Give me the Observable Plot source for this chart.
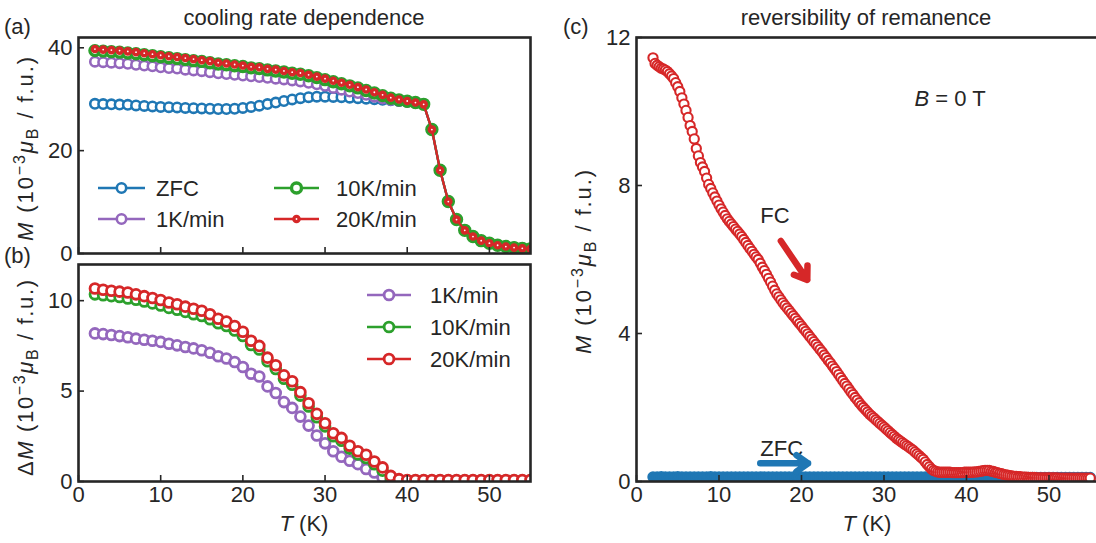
<!DOCTYPE html>
<html>
<head>
<meta charset="utf-8">
<script src="https://cdn.jsdelivr.net/npm/d3@7"></script>
<script src="https://cdn.jsdelivr.net/npm/@observablehq/plot@0.6"></script>
<style>
html,body{margin:0;padding:0;background:#fff;}
#wrap{position:relative;width:1096px;height:543px;overflow:hidden;background:#fff;}
</style>
</head>
<body>
<div id="wrap"></div>
<script>
// ---------------- data ----------------
const temps = [2,3,4,5,6,7,8,9,10,11,12,13,14,15,16,17,18,19,20,21,22,23,24,25,26,27,28,29,30,31,32,33,34,35,36,37,38,39,40,41,42,43,44,45,46,47,48,49,50,51,52,53,54,55];

// panel (a): M (10^-3 muB / f.u.)
const mZFC = [29.10,29.05,29.00,28.95,28.90,28.80,28.70,28.60,28.50,28.45,
  28.40,28.30,28.25,28.20,28.15,28.10,28.10,28.15,28.30,28.50,
  28.75,29.05,29.35,29.65,29.95,30.20,30.40,30.50,30.50,30.45,
  30.40,30.30,30.20,30.10,30.00,29.90,29.80,29.65,29.50,29.30,
  29.00,24.10,16.20,10.10,6.60,4.50,3.30,2.50,2.00,1.60,1.35,1.15,1.00,0.90];
const m1K = [37.30,37.20,37.10,37.00,36.90,36.70,36.55,36.40,36.20,36.05,
  35.95,35.75,35.60,35.45,35.25,35.05,34.90,34.75,34.60,34.45,
  34.30,34.15,34.00,33.85,33.65,33.45,33.20,32.90,32.60,32.20,
  31.85,31.50,31.20,30.85,30.50,30.15,29.85,29.65,29.50,29.30,
  29.00,24.10,16.20,10.10,6.60,4.50,3.30,2.50,2.00,1.60,1.35,1.15,1.00,0.90];
const m10K = [39.45,39.35,39.25,39.15,39.00,38.85,38.65,38.45,38.25,38.05,
  37.90,37.70,37.50,37.35,37.10,36.85,36.70,36.50,36.35,36.10,
  35.95,35.70,35.50,35.30,35.05,34.85,34.55,34.20,33.80,33.40,
  33.00,32.60,32.20,31.70,31.20,30.70,30.20,29.85,29.60,29.35,
  29.00,24.10,16.20,10.10,6.60,4.50,3.30,2.50,2.00,1.60,1.35,1.15,1.00,0.90];
const m20K = [39.75,39.65,39.55,39.45,39.30,39.15,38.95,38.75,38.55,38.35,
  38.20,38.00,37.80,37.60,37.40,37.10,36.95,36.75,36.55,36.30,
  36.20,35.90,35.75,35.50,35.25,35.10,34.75,34.40,34.00,33.60,
  33.20,32.80,32.35,31.90,31.35,30.85,30.30,29.95,29.65,29.35,
  29.00,24.10,16.20,10.10,6.60,4.50,3.30,2.50,2.00,1.60,1.35,1.15,1.00,0.90];

// panel (b): Delta M
const d1K = [8.19,8.15,8.10,8.04,7.98,7.90,7.84,7.78,7.72,7.62,
  7.53,7.44,7.36,7.26,7.12,6.93,6.80,6.61,6.33,5.96,
  5.81,5.26,4.89,4.39,4.07,3.59,3.09,2.54,2.11,1.67,
  1.37,1.15,0.96,0.69,0.50,0.22,0.02,0.00,0.00,0.00,
  0,0,0,0,0,0,0,0,0,0,0,0,0,0];
const d10K = [10.35,10.30,10.25,10.20,10.12,10.05,9.95,9.85,9.73,9.60,
  9.50,9.38,9.25,9.15,8.97,8.75,8.60,8.35,8.05,7.55,
  7.30,6.65,6.22,5.68,5.35,4.75,4.15,3.55,3.05,2.50,
  2.25,1.82,1.50,1.30,0.95,0.60,0.18,0.06,0.05,0.05,
  0.05,0.05,0.05,0.05,0.05,0.05,0.05,0.05,0.05,0.05,0.05,0.05,0.05,0.05];
const d20K = [10.67,10.60,10.55,10.50,10.45,10.35,10.25,10.15,10.04,9.90,
  9.80,9.67,9.55,9.44,9.25,9.00,8.85,8.60,8.28,7.78,
  7.50,6.85,6.43,5.87,5.54,4.94,4.33,3.74,3.22,2.67,
  2.41,1.98,1.67,1.48,1.11,0.78,0.31,0.13,0.08,0.08,
  0.08,0.08,0.08,0.08,0.08,0.08,0.08,0.08,0.08,0.08,0.08,0.08,0.08,0.08];

// panel (c): remanence, FC sampled every 0.25 K from 2 K, ZFC every 0.5 K from 2 K
const fcStart = 2, fcStep = 0.25;
const fcM = [
  11.45,11.30,11.25,11.21,11.17,11.15,11.12,11.08,
  11.02,10.96,10.89,10.78,10.67,10.54,10.37,10.20,
  10.03,9.84,9.62,9.46,9.26,9.00,8.80,8.62,
  8.50,8.38,8.20,8.03,7.92,7.80,7.69,7.58,
  7.47,7.37,7.28,7.19,7.10,7.03,6.96,6.89,
  6.82,6.76,6.69,6.62,6.54,6.46,6.38,6.30,
  6.22,6.14,6.07,6.00,5.90,5.79,5.70,5.60,
  5.49,5.39,5.28,5.17,5.07,4.99,4.91,4.83,
  4.76,4.69,4.62,4.55,4.48,4.41,4.34,4.27,
  4.20,4.13,4.06,3.99,3.92,3.85,3.78,3.71,
  3.64,3.57,3.50,3.42,3.35,3.27,3.20,3.12,
  3.05,2.97,2.89,2.81,2.73,2.65,2.58,2.50,
  2.42,2.35,2.27,2.20,2.13,2.06,2.00,1.94,
  1.88,1.82,1.77,1.72,1.67,1.62,1.57,1.52,
  1.47,1.42,1.37,1.32,1.27,1.22,1.17,1.13,
  1.09,1.05,1.01,0.97,0.93,0.89,0.85,0.80,
  0.75,0.70,0.65,0.60,0.53,0.46,0.40,0.34,
  0.30,0.28,0.26,0.25,0.25,0.25,0.25,0.25,
  0.25,0.24,0.24,0.24,0.24,0.24,0.24,0.25,
  0.25,0.25,0.25,0.25,0.26,0.26,0.27,0.28,
  0.29,0.30,0.30,0.30,0.28,0.27,0.25,0.24,
  0.22,0.21,0.19,0.18,0.17,0.16,0.15,0.14,
  0.14,0.13,0.13,0.12,0.12,0.12,0.11,0.11,
  0.11,0.11,0.10,0.10,0.10,0.10,0.10,0.10,
  0.10,0.10,0.10,0.10,0.10,0.09,0.09,0.09,
  0.09,0.09,0.09,0.09,0.09,0.09,0.09,0.09,
  0.09,0.09,0.09,0.09,0.09];
const zfcStart = 2, zfcStep = 0.5;
const zfcM = [
  0.12,0.12,0.13,0.12,0.12,0.12,0.13,0.12,0.12,0.12,
  0.12,0.12,0.12,0.12,0.13,0.12,0.12,0.12,0.12,0.12,
  0.12,0.12,0.12,0.12,0.12,0.12,0.12,0.12,0.12,0.12,
  0.12,0.12,0.12,0.12,0.12,0.12,0.12,0.12,0.12,0.12,
  0.12,0.12,0.12,0.12,0.12,0.12,0.12,0.12,0.12,0.12,
  0.12,0.12,0.12,0.12,0.12,0.12,0.12,0.12,0.12,0.12,
  0.12,0.12,0.12,0.12,0.12,0.12,0.12,0.12,0.12,0.12,
  0.11,0.11,0.11,0.11,0.11,0.11,0.11,0.11,0.11,0.11,
  0.11,0.11,0.11,0.11,0.11,0.11,0.11,0.11,0.11,0.11,
  0.11,0.11,0.11,0.11,0.11,0.11,0.11,0.11,0.11,0.11,
  0.11,0.11,0.11,0.11,0.11,0.11,0.11];

const xTicks = [0,10,20,30,40,50];
const yTicksA = [0,20,40];
const yTicksB = [0,5,10];
const yTicksC = [0,4,8,12];

// annotations in panel (c), in data units (T, M)
const fcLabel = {T: 15.0, M: 7.0, text: "FC"};
const zfcLabel = {T: 15.0, M: 0.70, text: "ZFC"};
const fieldLabel = {T: 33.7, M: 10.16, text: "B = 0 T"};
const fcArrow = {T1: 17.5, M1: 6.5, T2: 20.7, M2: 5.45};
const zfcArrow = {T1: 15.0, M1: 0.49, T2: 20.8, M2: 0.49};

// ---------------- style ----------------
const INK = "#262626";
const FONT = "'Liberation Sans', Arial, Helvetica, sans-serif";
const FS = 22;
const COL = {blue: "#1f77b4", purple: "#9467bd", green: "#2ca02c", red: "#d62728"};

const rowsOf = (xs, ys) => xs.map((x, i) => ({x, y: ys[i]}));
const wrap = document.getElementById("wrap");

function panel({left, top, width, height, margin, xDomain, yDomain, yTicks, xLabels, marks}) {
  const [mt, mr, mb, ml] = margin;
  const pw = width - ml - mr, ph = height - mt - mb;
  const tickX = 6 * (yDomain[1] - yDomain[0]) / ph;
  const tickY = 6 * (xDomain[1] - xDomain[0]) / pw;
  const all = [
    ...marks,
    Plot.ruleX(xTicks, {x: d => d, y1: yDomain[0], y2: yDomain[0] + tickX, stroke: INK, strokeWidth: 1.6}),
    Plot.ruleY(yTicks, {y: d => d, x1: xDomain[0], x2: xDomain[0] + tickY, stroke: INK, strokeWidth: 1.6}),
    Plot.frame({stroke: INK, strokeWidth: 2.6}),
    Plot.axisY({ticks: yTicks, tickSize: 0, tickPadding: 6, label: null, fontSize: FS, fill: INK})
  ];
  if (xLabels) all.push(Plot.axisX({ticks: xTicks, tickSize: 0, tickPadding: 5, label: null, fontSize: FS, fill: INK}));
  const svg = Plot.plot({
    width, height,
    marginTop: mt, marginRight: mr, marginBottom: mb, marginLeft: ml,
    x: xLabels ? {domain: xDomain} : {domain: xDomain, axis: null},
    y: {domain: yDomain},
    style: {fontFamily: FONT, fontSize: FS + "px", color: INK, background: "none", overflow: "visible"},
    marks: all
  });
  svg.style.position = "absolute";
  svg.style.left = left + "px";
  svg.style.top = top + "px";
  svg.style.height = height + "px";
  svg.style.maxWidth = "none";
  wrap.appendChild(svg);
  return svg;
}

function series(data, color, r, sw, fill = "white") {
  return [
    Plot.line(data, {x: "x", y: "y", stroke: color, strokeWidth: 2.3, clip: true}),
    Plot.dot(data, {x: "x", y: "y", r, stroke: color, strokeWidth: sw, fill, clip: true})
  ];
}

// ---------------- panel (a) ----------------
panel({
  left: 0, top: 0, width: 545, height: 260, margin: [37, 15, 7, 78],
  xDomain: [0, 55], yDomain: [0, 42], yTicks: yTicksA, xLabels: false,
  marks: [
    ...series(rowsOf(temps, mZFC), COL.blue, 4.7, 2.6),
    ...series(rowsOf(temps, m1K), COL.purple, 4.7, 2.6),
    ...series(rowsOf(temps, m10K), COL.green, 5.0, 3.4),
    ...series(rowsOf(temps, m20K), COL.red, 2.6, 3.4)
  ]
});

// ---------------- panel (b) ----------------
panel({
  left: 0, top: 250, width: 545, height: 293, margin: [14, 15, 62, 78],
  xDomain: [0, 55], yDomain: [0, 12], yTicks: yTicksB, xLabels: true,
  marks: [
    ...series(rowsOf(temps, d1K), COL.purple, 4.9, 2.8),
    ...series(rowsOf(temps, d10K), COL.green, 4.9, 2.8),
    ...series(rowsOf(temps, d20K), COL.red, 4.9, 2.8)
  ]
});

// ---------------- panel (c) ----------------
const fcData = fcM.map((m, i) => ({x: fcStart + i * fcStep, y: m}));
const zfcData = zfcM.map((m, i) => ({x: zfcStart + i * zfcStep, y: m}));
const svgC = panel({
  left: 560, top: 0, width: 540, height: 543, margin: [37, 2, 62, 76],
  xDomain: [0, 56], yDomain: [0, 12], yTicks: yTicksC, xLabels: true,
  marks: [
    Plot.dot(zfcData, {x: "x", y: "y", r: 4.8, stroke: COL.blue, strokeWidth: 1.8, fill: COL.blue, clip: true}),
    Plot.dot(fcData, {x: "x", y: "y", r: 4.6, stroke: COL.red, strokeWidth: 2.1, fill: "white", clip: true}),
    Plot.text([fcLabel, zfcLabel, fieldLabel], {x: "T", y: "M", text: "text", textAnchor: "start", lineAnchor: "bottom", fontSize: FS, fill: INK}),
    Plot.arrow([fcArrow], {x1: "T1", y1: "M1", x2: "T2", y2: "M2", stroke: COL.red, strokeWidth: 6.5, headLength: 3.3, headAngle: 70}),
    Plot.arrow([zfcArrow], {x1: "T1", y1: "M1", x2: "T2", y2: "M2", stroke: COL.blue, strokeWidth: 6.5, headLength: 3.3, headAngle: 70})
  ]
});
for (const t of svgC.querySelectorAll("text")) {
  if (t.textContent === "B = 0 T") t.innerHTML = '<tspan font-style="italic">B</tspan> = 0 T';
}

// ---------------- overlay: titles, labels, legends ----------------
function ylab(cx, cy, prefix, len) {
  return `<text transform="translate(${cx},${cy}) rotate(-90)" text-anchor="middle" textLength="${len}" lengthAdjust="spacing">${prefix}<tspan font-style="italic">M</tspan> (10<tspan dy="-8" font-size="16">−3</tspan><tspan dy="8" font-style="italic">μ</tspan><tspan dy="5" font-size="16">B</tspan><tspan dy="-5"> / f.u.)</tspan></text>`;
}
function legendItem(x0, x1, y, color, r, sw, label, tx) {
  return `<line x1="${x0}" x2="${x1}" y1="${y}" y2="${y}" stroke="${color}" stroke-width="2.3"/>` +
    `<circle cx="${(x0 + x1) / 2}" cy="${y}" r="${r}" fill="white" stroke="${color}" stroke-width="${sw}"/>` +
    `<text x="${tx}" y="${y + 8}">${label}</text>`;
}
const ov = document.createElementNS("http://www.w3.org/2000/svg", "svg");
ov.setAttribute("width", 1096);
ov.setAttribute("height", 543);
ov.setAttribute("font-family", FONT);
ov.setAttribute("font-size", FS);
ov.setAttribute("fill", INK);
ov.style.cssText = "position:absolute;left:0;top:0;pointer-events:none;overflow:visible";
ov.innerHTML =
  `<text x="4" y="34">(a)</text>` +
  `<text x="304" y="25" text-anchor="middle">cooling rate dependence</text>` +
  `<text x="4" y="263">(b)</text>` +
  `<text x="563" y="34">(c)</text>` +
  `<text x="866" y="25" text-anchor="middle">reversibility of remanence</text>` +
  ylab(33, 149, "", 184) +
  ylab(33, 378, "Δ", 196) +
  ylab(591, 262, "", 184) +
  `<text x="304" y="531" text-anchor="middle"><tspan font-style="italic">T</tspan> (K)</text>` +
  `<text x="867" y="531" text-anchor="middle"><tspan font-style="italic">T</tspan> (K)</text>` +
  legendItem(98, 145, 188, COL.blue, 4.7, 2.6, "ZFC", 156) +
  legendItem(98, 145, 219, COL.purple, 4.7, 2.6, "1K/min", 156) +
  legendItem(274, 319, 188, COL.green, 5.0, 3.4, "10K/min", 336) +
  legendItem(274, 319, 219, COL.red, 2.6, 3.4, "20K/min", 336) +
  legendItem(367, 411, 295, COL.purple, 4.9, 2.8, "1K/min", 430) +
  legendItem(367, 411, 327, COL.green, 4.9, 2.8, "10K/min", 430) +
  legendItem(367, 411, 359, COL.red, 4.9, 2.8, "20K/min", 430);
wrap.appendChild(ov);
</script>
</body>
</html>
